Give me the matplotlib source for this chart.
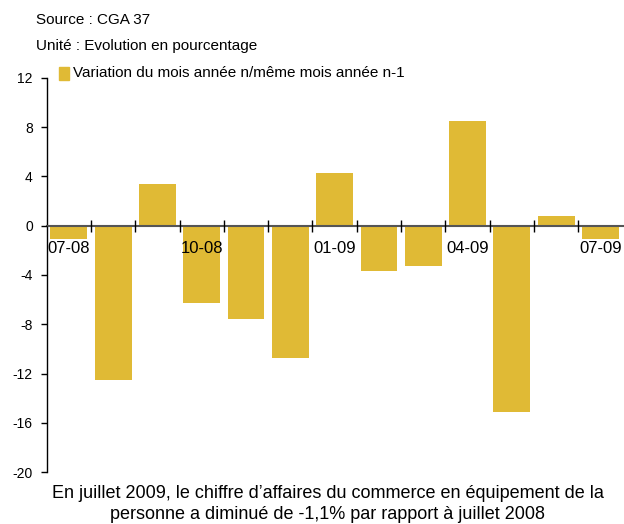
import matplotlib.pyplot as plt
import numpy as np

plt.rcParams['font.family'] = ['Liberation Sans', 'DejaVu Sans']

mois = ['07-08', '08-08', '09-08', '10-08', '11-08', '12-08', '01-09',
        '02-09', '03-09', '04-09', '05-09', '06-09', '07-09']
variation = [-1.1, -12.5, 3.4, -6.3, -7.6, -10.7, 4.3, -3.7, -3.3, 8.5, -15.1, 0.8, -1.1]
yticks = [12, 8, 4, 0, -4, -8, -12, -16, -20]
couleur = '#E0BA35'

fig = plt.figure(figsize=(6.24, 5.24), dpi=100)
ax = fig.add_axes([0.0748, 0.0987, 0.923, 0.753])

x = np.arange(len(mois))
ax.bar(x, variation, width=0.83, color=couleur, zorder=1)
ax.set_axisbelow(False)

ax.set_xlim(-0.5, len(mois) - 0.5)
ax.set_ylim(-20, 12)
ax.set_yticks(yticks)
ax.set_yticklabels([str(v) for v in yticks], fontsize=10)
ax.tick_params(axis='y', direction='out', length=4, width=1, pad=6)

# axe des x sur la ligne zero
ax.spines['bottom'].set_position(('data', 0))
ax.spines['bottom'].set_color('#555555')
ax.spines['bottom'].set_linewidth(1.5)
ax.spines['top'].set_visible(False)
ax.spines['right'].set_visible(False)
ax.spines['left'].set_linewidth(1)

ax.set_xticks(x[::3])
ax.set_xticklabels([mois[i] for i in x[::3]], fontsize=12)
ax.set_xticks(np.arange(0.5, len(mois) - 0.5), minor=True)
ax.tick_params(axis='x', which='major', length=0, pad=11)
ax.tick_params(axis='x', which='minor', direction='inout', length=8, width=1, color='black')

fig.text(0.058, 0.962, 'Source : CGA 37', fontsize=11, va='center')
fig.text(0.058, 0.913, 'Unité : Evolution en pourcentage', fontsize=11, va='center')

# legende
fig.patches.append(plt.Rectangle((0.0945, 0.848), 0.0165, 0.024, color=couleur,
                                 transform=fig.transFigure, figure=fig))
fig.text(0.117, 0.860, 'Variation du mois année n/même mois année n-1', fontsize=11, va='center')

fig.text(0.525, 0.058, "En juillet 2009, le chiffre d\u2019affaires du commerce en équipement de la",
         fontsize=13, ha='center', va='center')
fig.text(0.525, 0.019, 'personne a diminué de -1,1% par rapport à juillet 2008',
         fontsize=13, ha='center', va='center')

fig.savefig('out.png', dpi=100)
